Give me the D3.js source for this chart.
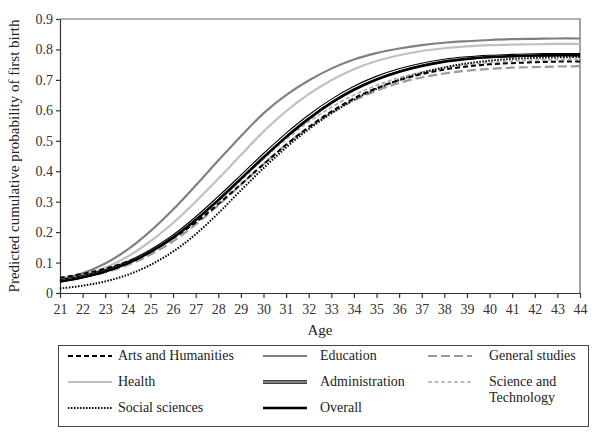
<!DOCTYPE html>
<html><head><meta charset="utf-8">
<script src="https://cdn.jsdelivr.net/npm/d3@7"></script>
<style>body{margin:0;background:#fff}svg,svg text{font-family:"Liberation Serif","Times New Roman",Times,serif !important}</style>
</head><body><svg id="c" width="600" height="440"></svg>
<script>
const ages = d3.range(21, 45);
const yTicks = [0,0.1,0.2,0.3,0.4,0.5,0.6,0.7,0.8,0.9];
const education = [0.045,0.065,0.097,0.143,0.203,0.274,0.353,0.435,0.515,0.59,0.65,0.698,0.737,0.767,0.788,0.803,0.814,0.822,0.827,0.831,0.834,0.835,0.836,0.836];
const health    = [0.04,0.058,0.083,0.12,0.17,0.23,0.30,0.375,0.453,0.53,0.597,0.653,0.699,0.735,0.762,0.781,0.795,0.804,0.81,0.814,0.816,0.817,0.818,0.818];
const admin     = [0.04,0.054,0.073,0.10,0.138,0.186,0.245,0.312,0.382,0.453,0.52,0.58,0.632,0.675,0.708,0.733,0.751,0.764,0.772,0.777,0.78,0.782,0.783,0.783];
const overall   = [0.038,0.052,0.071,0.098,0.135,0.182,0.24,0.305,0.375,0.445,0.512,0.572,0.624,0.667,0.701,0.727,0.746,0.76,0.769,0.775,0.778,0.78,0.781,0.781];
const arts      = [0.05,0.063,0.08,0.104,0.137,0.18,0.232,0.292,0.357,0.423,0.487,0.545,0.596,0.639,0.673,0.699,0.719,0.734,0.744,0.751,0.755,0.758,0.76,0.76];
const general   = [0.045,0.054,0.068,0.092,0.126,0.17,0.225,0.288,0.355,0.423,0.487,0.543,0.592,0.632,0.665,0.69,0.708,0.721,0.73,0.736,0.74,0.742,0.744,0.745];
const science   = [0.04,0.053,0.071,0.097,0.133,0.179,0.236,0.301,0.37,0.44,0.505,0.562,0.61,0.65,0.682,0.707,0.726,0.74,0.75,0.757,0.762,0.765,0.767,0.768];
const social    = [0.015,0.024,0.038,0.06,0.092,0.136,0.193,0.262,0.337,0.41,0.478,0.538,0.59,0.635,0.671,0.70,0.723,0.741,0.754,0.763,0.769,0.772,0.774,0.775];

const FONT = "Liberation Serif, Times New Roman, serif";
const svg = d3.select("#c");
const x = d3.scaleLinear().domain([21,44]).range([60,580]);
const y = d3.scaleLinear().domain([0,0.9]).range([293,19]);

const series = [
  {name:"Arts and Humanities", v:arts, color:"#000", w:2, dash:"5,3"},
  {name:"Education", v:education, color:"#808080", w:2.2, dash:null},
  {name:"General studies", v:general, color:"#9a9a9a", w:2.2, dash:"9,4"},
  {name:"Health", v:health, color:"#c0c0c0", w:2.2, dash:null},
  {name:"Administration", v:admin, color:"#000", w:3.4, dash:null, dbl:true},
  {name:"Science and|Technology", v:science, color:"#a8a8a8", w:1.6, dash:"4,2.5"},
  {name:"Social sciences", v:social, color:"#000", w:2, dash:"1.5,1.5"},
  {name:"Overall", v:overall, color:"#000", w:2.6, dash:null}
];

svg.append("path").attr("d",`M60,19H580V293`).attr("fill","none").attr("stroke","#666").attr("stroke-width",1.2);

const xAxis = svg.append("g").attr("transform","translate(0,293)")
  .call(d3.axisBottom(x).tickValues(ages).tickFormat(d3.format("d")).tickSize(5).tickSizeOuter(0));
const yAxis = svg.append("g").attr("transform","translate(60,0)")
  .call(d3.axisLeft(y).tickValues(yTicks).tickFormat(d=>d===0?"0":d3.format(".1f")(d)).tickSize(4).tickSizeOuter(0));
[xAxis,yAxis].forEach(a=>{
  a.attr("font-family",FONT);
  a.selectAll("path,line").attr("stroke","#333").attr("stroke-width",1.2);
  a.selectAll("text").attr("font-family",FONT).attr("font-size",14).attr("fill","#333");
});
xAxis.selectAll("text").attr("dy","0.9em");

svg.append("text").attr("x",320).attr("y",335).attr("text-anchor","middle").attr("font-family",FONT)
  .attr("font-size",15).attr("fill","#222").text("Age");
svg.append("text").attr("transform","translate(19,156) rotate(-90)").attr("text-anchor","middle").attr("font-family",FONT)
  .attr("font-size",15).attr("fill","#222").text("Predicted cumulative probability of first birth");

const line = d3.line().x((d,i)=>x(ages[i])).y(d=>y(d)).curve(d3.curveCatmullRom.alpha(0.5));
const order = ["Science and|Technology","General studies","Health","Education","Social sciences","Arts and Humanities","Administration","Overall"];
order.forEach(n=>{
  const s = series.find(t=>t.name===n);
  const p = svg.append("path").datum(s.v).attr("d",line).attr("fill","none")
    .attr("stroke",s.color).attr("stroke-width",s.w);
  if(s.dash) p.attr("stroke-dasharray",s.dash);
  if(s.dbl) svg.append("path").datum(s.v).attr("d",line).attr("fill","none").attr("stroke","#fff").attr("stroke-width",1.2);
});

svg.append("rect").attr("x",58.5).attr("y",345.5).attr("width",530).attr("height",81)
  .attr("fill","#fff").attr("stroke","#444").attr("stroke-width",1);
const cols = [[68,118],[263,320],[428,489]];
const rows = [360,386,412];
series.forEach((s,i)=>{
  const c = cols[i%3], r = rows[Math.floor(i/3)];
  const g = svg.append("g");
  const ln = g.append("line").attr("x1",c[0]).attr("x2",c[0]+44).attr("y1",r-4).attr("y2",r-4)
    .attr("stroke",s.color).attr("stroke-width",s.w);
  if(s.dash) ln.attr("stroke-dasharray",s.dash);
  if(s.dbl) g.append("line").attr("x1",c[0]).attr("x2",c[0]+44).attr("y1",r-4).attr("y2",r-4).attr("stroke","#fff").attr("stroke-width",1.2);
  s.name.split("|").forEach((t,k)=>{
    g.append("text").attr("x",c[1]).attr("y",r+k*15.5).attr("font-family",FONT).attr("font-size",14).attr("fill","#222").text(t);
  });
});
</script></body></html>
